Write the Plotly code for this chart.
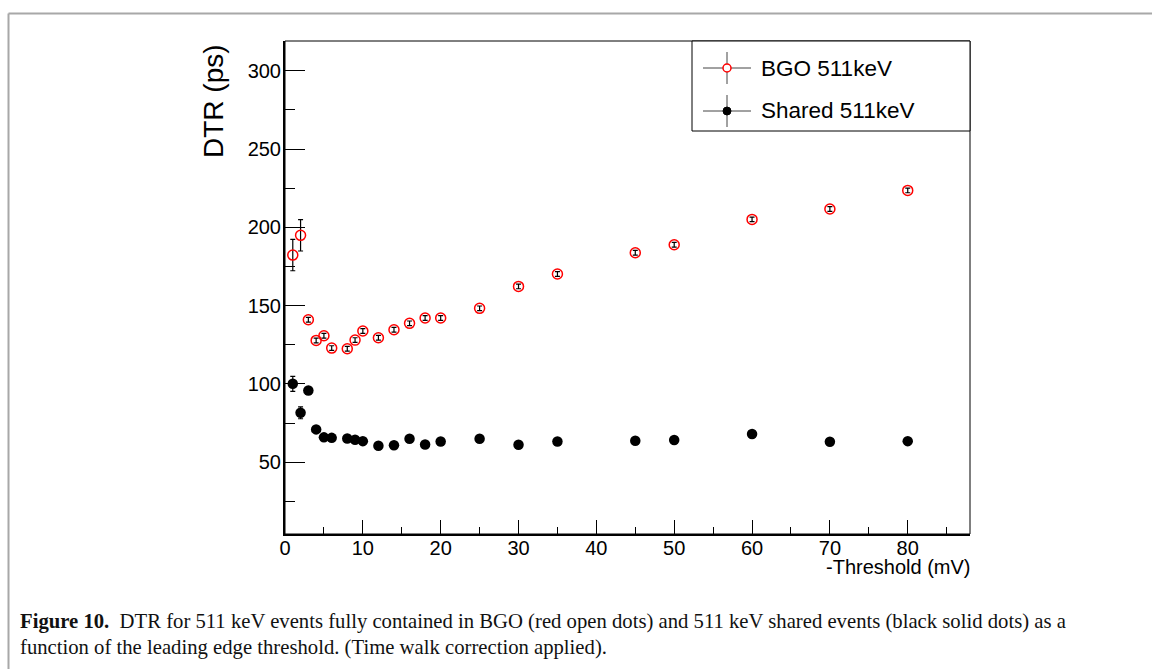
import plotly.graph_objects as go

# ---------------- data ----------------
threshold = [1, 2, 3, 4, 5, 6, 8, 9, 10, 12, 14, 16, 18, 20, 25, 30, 35, 45, 50, 60, 70, 80]
bgo_dtr = [182.3, 194.9, 141.0, 127.8, 130.8, 122.9, 122.5, 128.0, 133.8, 129.5, 134.6,
           138.7, 142.1, 142.1, 148.3, 162.3, 170.2, 183.8, 188.9, 205.1, 211.7, 223.6]
bgo_err = [10.0, 10.0, 1.5, 1.5, 1.5, 1.5, 1.5, 1.5, 1.5, 1.5, 1.5,
           1.5, 1.5, 1.5, 1.5, 1.5, 1.5, 1.5, 1.5, 1.5, 1.5, 1.5]
shared_dtr = [100.1, 81.6, 95.8, 71.0, 65.9, 65.6, 65.2, 64.4, 63.5, 60.5, 60.9,
              65.0, 61.4, 63.3, 65.0, 61.2, 63.3, 63.7, 64.2, 68.0, 63.1, 63.5]
shared_err = [4.8, 3.8, 1.2, 1.2, 1.0, 1.0, 1.0, 1.0, 1.0, 1.0, 1.0,
              1.0, 1.0, 1.0, 1.0, 1.0, 1.0, 1.0, 1.0, 1.0, 1.0, 1.0]
x_ticks = [0, 10, 20, 30, 40, 50, 60, 70, 80]
y_ticks = [50, 100, 150, 200, 250, 300]
legend_labels = ["BGO 511keV", "Shared 511keV"]
x_title = "-Threshold (mV)"
y_title = "DTR (ps)"
caption_1 = ("<b>Figure 10.</b>  DTR for 511 keV events fully contained in BGO (red open dots) "
             "and 511 keV shared events (black solid dots) as a")
caption_2 = "function of the leading edge threshold. (Time walk correction applied)."

# ---------------- layout geometry (pixels) ----------------
W, H = 1152, 669
L, R, T, B = 285, 970, 41, 534


def xp(px):
    return (px - L) / (R - L)


def yp(py):
    return (B - py) / (B - T)


SANS = "Liberation Sans, Arial, sans-serif"
SERIF = "Liberation Serif, Times New Roman, serif"

fig = go.Figure()

fig.add_trace(go.Scatter(
    x=threshold, y=bgo_dtr, mode="markers", name=legend_labels[0],
    marker=dict(symbol="circle-open", size=10, color="red", line=dict(width=1.5, color="red")),
    error_y=dict(type="data", array=bgo_err, visible=True, color="black", thickness=1.2, width=2.5),
    showlegend=False,
))
fig.add_trace(go.Scatter(
    x=threshold, y=shared_dtr, mode="markers", name=legend_labels[1],
    marker=dict(symbol="circle", size=10.5, color="black"),
    error_y=dict(type="data", array=shared_err, visible=True, color="black", thickness=1.2, width=2.5),
    showlegend=False,
))

fig.update_layout(
    width=W, height=H,
    margin=dict(l=L, r=W - R, t=T, b=H - B, pad=0),
    paper_bgcolor="white", plot_bgcolor="white",
    font=dict(family=SANS, color="black", size=20),
    hovermode=False,
    xaxis=dict(
        range=[0, 88], tickvals=x_ticks, ticks="inside", ticklen=14, tickwidth=1.2,
        tickcolor="black", showline=True, linewidth=2, linecolor="black", mirror=False,
        showgrid=False, zeroline=False, tickfont=dict(size=20, family=SANS),
        ticklabelstandoff=-5,
        minor=dict(dtick=5, tick0=0, ticks="inside", ticklen=7, tickwidth=1.2, tickcolor="black", showgrid=False),
    ),
    yaxis=dict(
        range=[4.2, 319], tickvals=y_ticks, ticks="inside", ticklen=20, tickwidth=1.2,
        tickcolor="black", showline=True, linewidth=2, linecolor="black", mirror=False,
        showgrid=False, zeroline=False, tickfont=dict(size=20, family=SANS),
        ticklabelstandoff=-2,
        minor=dict(dtick=25, tick0=0, ticks="inside", ticklen=10, tickwidth=1.2, tickcolor="black", showgrid=False),
    ),
)

shapes = []
# plot frame (top/right thinner)
shapes.append(dict(type="rect", xref="paper", yref="paper", x0=0, y0=0, x1=1, y1=1,
                   line=dict(color="black", width=1), layer="above"))
# outer figure border (gray)
shapes.append(dict(type="line", xref="paper", yref="paper", x0=xp(8.5), y0=yp(13.5), x1=xp(1152), y1=yp(13.5),
                   line=dict(color="#a8a8a8", width=2)))
shapes.append(dict(type="line", xref="paper", yref="paper", x0=xp(8.5), y0=yp(13.5), x1=xp(8.5), y1=yp(669),
                   line=dict(color="#a8a8a8", width=2)))
# legend box
shapes.append(dict(type="rect", xref="paper", yref="paper", x0=xp(692), y0=yp(131), x1=xp(970), y1=yp(41),
                   line=dict(color="black", width=1), fillcolor="white", layer="above"))
legend_rows = [68, 111]
for row in legend_rows:
    shapes.append(dict(type="line", xref="paper", yref="paper", x0=xp(703), y0=yp(row), x1=xp(751), y1=yp(row),
                       line=dict(color="#444444", width=1), layer="above"))
    shapes.append(dict(type="line", xref="paper", yref="paper", x0=xp(727), y0=yp(row - 16), x1=xp(727), y1=yp(row + 16),
                       line=dict(color="#444444", width=1), layer="above"))
# legend markers
r = 4
shapes.append(dict(type="circle", xref="paper", yref="paper",
                   x0=xp(727 - r), x1=xp(727 + r), y0=yp(legend_rows[0] + r), y1=yp(legend_rows[0] - r),
                   line=dict(color="red", width=1.5), fillcolor="white", layer="above"))
shapes.append(dict(type="circle", xref="paper", yref="paper",
                   x0=xp(727 - r), x1=xp(727 + r), y0=yp(legend_rows[1] + r), y1=yp(legend_rows[1] - r),
                   line=dict(color="black", width=1), fillcolor="black", layer="above"))
fig.update_layout(shapes=shapes)

ann = []
for row, lab in zip(legend_rows, legend_labels):
    ann.append(dict(xref="paper", yref="paper", x=xp(759), y=yp(row), xanchor="left", yanchor="middle",
                    text=lab, showarrow=False, font=dict(size=22.5, family=SANS, color="black")))
# axis titles
ann.append(dict(xref="paper", yref="paper", x=xp(214), y=yp(42), xanchor="center", yanchor="top",
                text=y_title, textangle=-90, showarrow=False, font=dict(size=28, family=SANS, color="black")))
ann.append(dict(xref="paper", yref="paper", x=xp(972), y=yp(567), xanchor="right", yanchor="middle",
                text=x_title, showarrow=False, font=dict(size=20, family=SANS, color="black")))
# caption
ann.append(dict(xref="paper", yref="paper", x=xp(18), y=yp(621), xanchor="left", yanchor="middle",
                text=caption_1, showarrow=False, font=dict(size=20.7, family=SERIF, color="#111111")))
ann.append(dict(xref="paper", yref="paper", x=xp(18), y=yp(647), xanchor="left", yanchor="middle",
                text=caption_2, showarrow=False, font=dict(size=20.7, family=SERIF, color="#111111")))
fig.update_layout(annotations=ann)

fig.write_html("out.html", config={"displayModeBar": False})
